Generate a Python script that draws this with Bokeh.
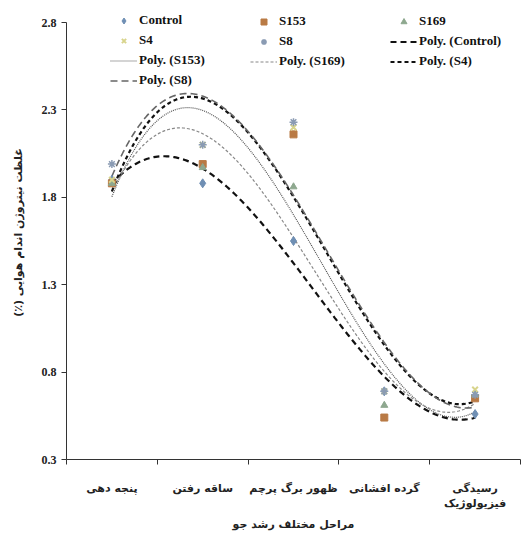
import numpy as np
from bokeh.plotting import figure
from bokeh.models import Range1d, FixedTicker, Legend, LegendItem
from bokeh.embed import file_html
from bokeh.resources import INLINE

# ---- data ----
stages = ["پنجه دهی", "ساقه رفتن", "ظهور برگ پرچم", "گرده افشانی", "رسیدگی\nفیزیولوژیک"]
stage_pos = [1, 2, 3, 4, 5]
control = [1.90, 1.88, 1.55, 0.69, 0.56]
s153 = [1.88, 1.99, 2.16, 0.54, 0.65]
s169 = [1.88, 1.97, 1.86, 0.61, 0.67]
s4 = [1.90, 2.10, 2.20, 0.69, 0.70]
s8 = [1.99, 2.10, 2.23, 0.69, 0.67]
y_ticks = [0.3, 0.8, 1.3, 1.8, 2.3, 2.8]
x_title = "مراحل مختلف رشد جو"
y_title = "غلظت نیتروژن اندام هوایی (٪)\u200f"

SERIF = "Liberation Serif"
FA = "DejaVu Sans"

# frame extends a little above the top tick so the legend is not clipped
y_top = y_ticks[0] + (y_ticks[-1] - y_ticks[0]) * 454 / 437

p = figure(width=526, height=543, x_range=Range1d(0.5, 5.5), y_range=Range1d(y_ticks[0], y_top),
           output_backend="svg", toolbar_location=None,
           min_border_left=66, min_border_right=6, min_border_top=5, min_border_bottom=84)
p.xgrid.visible = False
p.ygrid.visible = False
p.outline_line_color = None
p.background_fill_color = "white"

# trendlines: 3rd order polynomial fits of each series
xs = np.linspace(1, 5, 200)
def trend(vals):
    c = np.polyfit(stage_pos, vals, 3)
    return np.polyval(c, xs)

r_pc = p.line(xs, trend(control), line_color="#111111", line_width=2.2, line_dash="6 4")
r_p153 = p.line(xs, trend(s153), line_color="#555555", line_width=1.2, line_dash="1 1")
r_p169 = p.line(xs, trend(s169), line_color="#888888", line_width=1.2, line_dash="3 2")
r_p4 = p.line(xs, trend(s4), line_color="#111111", line_width=2.2, line_dash="4 3")
r_p8 = p.line(xs, trend(s8), line_color="#666666", line_width=1.6, line_dash="7 4")

# markers
r_c = p.scatter(stage_pos, control, marker="diamond", size=9, fill_color="#6f8fb4", line_color="#6f8fb4")
r_153 = p.scatter(stage_pos, s153, marker="square", size=7, fill_color="#b97a45", line_color="#b97a45")
r_169 = p.scatter(stage_pos, s169, marker="triangle", size=7, fill_color="#8ea88f", line_color="#8ea88f")
r_4 = p.scatter(stage_pos, s4, marker="x", size=8, line_color="#d8d48c", line_width=2)
r_8 = p.scatter(stage_pos, s8, marker="asterisk", size=8, line_color="#8a9bb3", line_width=1.5)

# axes
p.yaxis.bounds = (y_ticks[0], y_ticks[-1])
p.yaxis.ticker = FixedTicker(ticks=y_ticks)
p.yaxis.major_label_overrides = {t: f"{t:.1f}" for t in y_ticks}
p.yaxis.major_tick_out = 5
p.yaxis.major_tick_in = 0
p.yaxis.minor_tick_out = 0
p.yaxis.minor_tick_in = 0
p.yaxis.axis_line_color = "#333333"
p.yaxis.major_tick_line_color = "#333333"
p.yaxis.major_label_text_font = SERIF
p.yaxis.major_label_text_font_style = "bold"
p.yaxis.major_label_text_font_size = "12px"
p.yaxis.major_label_text_color = "#222222"
p.yaxis.axis_label = y_title
p.yaxis.axis_label_text_font = FA
p.yaxis.axis_label_text_font_size = "11px"
p.yaxis.axis_label_text_font_style = "bold"
p.yaxis.axis_label_text_color = "#222222"
p.yaxis.axis_label_standoff = 14

p.xaxis.ticker = FixedTicker(ticks=stage_pos, minor_ticks=[0.5, 1.5, 2.5, 3.5, 4.5, 5.5])
p.xaxis.major_label_overrides = {i: s for i, s in zip(stage_pos, stages)}
p.xaxis.major_tick_out = 0
p.xaxis.major_tick_in = 0
p.xaxis.minor_tick_out = 5
p.xaxis.minor_tick_in = 0
p.xaxis.minor_tick_line_color = "#333333"
p.xaxis.axis_line_color = "#333333"
p.xaxis.major_label_text_font = FA
p.xaxis.major_label_text_font_style = "bold"
p.xaxis.major_label_text_font_size = "11px"
p.xaxis.major_label_text_color = "#222222"
p.xaxis.major_label_standoff = 17
p.xaxis.axis_label = x_title
p.xaxis.axis_label_text_font = FA
p.xaxis.axis_label_text_font_size = "11px"
p.xaxis.axis_label_text_font_style = "bold"
p.xaxis.axis_label_text_color = "#222222"
p.xaxis.axis_label_standoff = 5

# legend: three columns
def make_legend(items, vx, vy):
    lg = Legend(items=[LegendItem(label=l, renderers=[r]) for l, r in items],
                location=(vx, vy), orientation="vertical",
                background_fill_alpha=0, border_line_color=None,
                padding=0, margin=0, spacing=4,
                glyph_width=27, glyph_height=15, label_height=15,
                label_standoff=2,
                label_text_font=SERIF, label_text_font_style="bold",
                label_text_font_size="13px", label_text_color="#111111")
    p.add_layout(lg, "center")

make_legend([("Control", r_c), ("S4", r_4), ("Poly. (S153)", r_p153), ("Poly. (S8)", r_p8)], 44, 371)
make_legend([("S153", r_153), ("S8", r_8), ("Poly. (S169)", r_p169)], 184, 390)
make_legend([("S169", r_169), ("Poly. (Control)", r_pc), ("Poly. (S4)", r_p4)], 324, 390)

open("out.html", "w").write(file_html(p, INLINE))
